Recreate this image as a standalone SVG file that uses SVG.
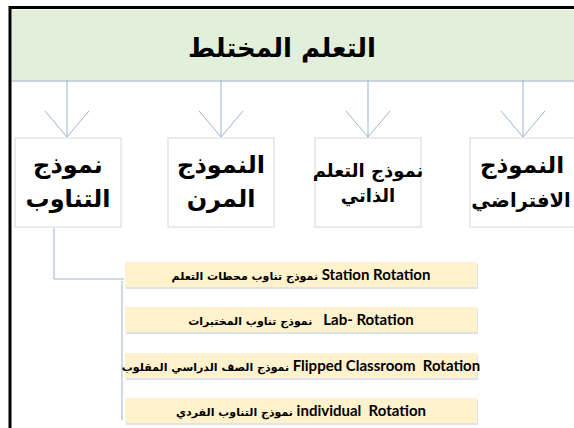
<svg xmlns="http://www.w3.org/2000/svg" width="574" height="428" viewBox="0 0 574 428">
<style>
.frame{fill:none;stroke:#000;stroke-width:3}
.band{fill:#e2efda}
.bandshadow{fill:#c9d3df}
.node{fill:#fff;stroke:#d3d8e0;stroke-width:1}
.ar{font-family:"DejaVu Sans","Noto Sans",sans-serif;font-weight:bold;fill:#000;text-anchor:middle}
.conn{fill:none;stroke:#9db3cf;stroke-width:1}
.item{fill:#fff2cc}
.itemshadow{fill:#dde3ea}
.it{font-family:Lato,"Open Sans",sans-serif;font-weight:bold;font-size:15px;fill:#000;text-anchor:middle;white-space:pre}
.itar{font-family:"DejaVu Sans",sans-serif;font-weight:bold;font-size:11px}
</style>
<rect width="574" height="428" fill="#fff"/>
<g id="header">
<rect class="bandshadow" x="12" y="80" width="562" height="2"/>
<rect class="band" x="12" y="10" width="562" height="70"/>
<text class="ar" x="282" y="57" font-size="26">التعلم المختلط</text>
</g>
<g id="connectors">
<path class="conn" d="M67,80V137M45,111L67,137L89,111"/>
<path class="conn" d="M221,80V137M199,111L221,137L243,111"/>
<path class="conn" d="M368,80V137M346,111L368,137L390,111"/>
<path class="conn" d="M523,80V137M501,111L523,137L545,111"/>
<path class="conn" d="M54,228V279H124"/>
<path class="conn" stroke="#e8ebf0" d="M122,281V420"/>
</g>
<g id="node-rotation">
<rect class="node" x="15" y="138" width="106" height="89"/>
<text class="ar" x="68" y="173" font-size="24">نموذج</text>
<text class="ar" x="68" y="207" font-size="24">التناوب</text>
</g>
<g id="node-flex">
<rect class="node" x="168" y="138" width="106" height="89"/>
<text class="ar" x="221" y="173" font-size="24">النموذج</text>
<text class="ar" x="221" y="207" font-size="24">المرن</text>
</g>
<g id="node-self">
<rect class="node" x="315" y="138" width="106" height="89"/>
<text class="ar" x="368" y="177" font-size="18">نموذج التعلم</text>
<text class="ar" x="368" y="202" font-size="18">الذاتي</text>
</g>
<g id="node-virtual">
<rect class="node" x="470" y="138" width="106" height="89"/>
<text class="ar" x="522" y="173" font-size="23">النموذج</text>
<text class="ar" x="521" y="207" font-size="19.5">الافتراضي</text>
</g>
<g id="item-station">
<rect class="itemshadow" x="126" y="264" width="352" height="25"/>
<rect class="item" x="125" y="262" width="352" height="25"/>
<text class="it" x="301" y="280"><tspan class="itar">نموذج تناوب محطات التعلم</tspan> Station Rotation</text>
</g>
<g id="item-lab">
<rect class="itemshadow" x="126" y="309" width="352" height="25"/>
<rect class="item" x="125" y="307" width="352" height="25"/>
<text class="it" x="301" y="325"><tspan class="itar">نموذج تناوب المختبرات</tspan>   Lab- Rotation</text>
</g>
<g id="item-flipped">
<rect class="itemshadow" x="126" y="355" width="352" height="25"/>
<rect class="item" x="125" y="353" width="352" height="25"/>
<text class="it" x="301" y="371"><tspan class="itar">نموذج الصف الدراسي المقلوب</tspan> Flipped Classroom  Rotation</text>
</g>
<g id="item-individual">
<rect class="itemshadow" x="126" y="400" width="352" height="25"/>
<rect class="item" x="125" y="398" width="352" height="25"/>
<text class="it" x="301" y="416"><tspan class="itar">نموذج التناوب الفردي</tspan> individual  Rotation</text>
</g>
<path class="frame" d="M10,428V7.5H574"/>
</svg>
